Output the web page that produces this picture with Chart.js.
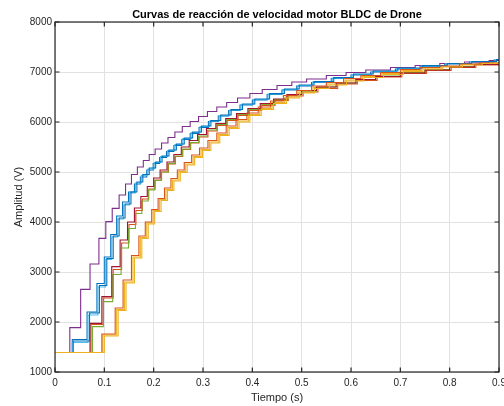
<!DOCTYPE html>
<html><head><meta charset="utf-8">
<script src="https://cdn.jsdelivr.net/npm/chart.js@4/dist/chart.umd.min.js"></script>
<style>html,body{margin:0;padding:0;background:#fff}canvas{display:block}</style>
</head><body>
<canvas id="c" width="504" height="406"></canvas>
<script>
const titleText = 'Curvas de reacción de velocidad motor BLDC de Drone';
const xLabel = 'Tiempo (s)';
const yLabel = 'Amplitud (V)';
const xTicks = [0, 0.1, 0.2, 0.3, 0.4, 0.5, 0.6, 0.7, 0.8, 0.9];
const xTickLabels = ['0', '0.1', '0.2', '0.3', '0.4', '0.5', '0.6', '0.7', '0.8', '0.9'];
const yTicks = [1000, 2000, 3000, 4000, 5000, 6000, 7000, 8000];
const yTickLabels = ['1000', '2000', '3000', '4000', '5000', '6000', '7000', '8000'];

const tPurple = [0, .030, .052, .071, .089, .103, .116, .130, .143, .155, .167, .179, .191, .203, .216, .229, .243, .258, .274, .291, .309, .328, .348, .370, .395, .420, .450, .480, .510, .550, .590, .630, .680, .730, .780, .830, .880, .900];
const yPurple = [1390, 1887, 2653, 3160, 3673, 4007, 4273, 4540, 4760, 4950, 5100, 5230, 5350, 5460, 5580, 5690, 5800, 5910, 6010, 6110, 6210, 6300, 6390, 6480, 6570, 6650, 6730, 6800, 6860, 6930, 6990, 7040, 7090, 7130, 7170, 7200, 7230, 7240];

const tBlueA = [0, .035, .065, .085, .100, .113, .125, .137, .149, .161, .173, .186, .199, .212, .226, .241, .257, .274, .292, .311, .331, .352, .375, .400, .430, .460, .490, .520, .560, .600, .640, .690, .740, .790, .840, .890, .900];
const yBlueA = [1390, 1650, 2200, 2770, 3300, 3750, 4120, 4400, 4600, 4760, 4900, 5040, 5170, 5290, 5410, 5530, 5650, 5770, 5890, 6010, 6120, 6230, 6340, 6440, 6550, 6640, 6720, 6790, 6870, 6940, 7000, 7060, 7110, 7160, 7200, 7240, 7250];

const tBlueB = [0, .037, .070, .090, .105, .118, .130, .142, .154, .166, .178, .191, .204, .217, .231, .246, .262, .279, .297, .316, .336, .357, .380, .405, .435, .465, .495, .525, .565, .605, .645, .695, .745, .795, .845, .895, .900];
const yBlueB = [1390, 1620, 2180, 2730, 3270, 3720, 4080, 4360, 4600, 4800, 4950, 5080, 5200, 5320, 5440, 5560, 5680, 5800, 5920, 6030, 6140, 6250, 6360, 6460, 6570, 6660, 6740, 6810, 6890, 6960, 7020, 7080, 7130, 7170, 7210, 7250, 7250];

const tLightBlue = [0, .035, .067, .087, .102, .115, .127, .139, .151, .163, .175, .188, .201, .214, .228, .243, .259, .276, .294, .313, .333, .354, .377, .402, .432, .462, .492, .522, .562, .602, .642, .692, .742, .792, .842, .892, .900];
const yLightBlue = [1390, 1590, 2140, 2700, 3250, 3700, 4060, 4340, 4580, 4780, 4930, 5060, 5190, 5310, 5430, 5550, 5670, 5790, 5910, 6020, 6130, 6240, 6350, 6450, 6560, 6650, 6730, 6800, 6880, 6950, 7010, 7070, 7120, 7170, 7210, 7250, 7260];

const tRed = [0, .071, .095, .115, .132, .147, .161, .174, .187, .200, .213, .227, .241, .256, .272, .289, .307, .326, .346, .368, .391, .416, .443, .470, .500, .530, .570, .610, .650, .700, .750, .800, .850, .900];
const yRed = [1390, 1973, 2507, 3107, 3640, 4000, 4280, 4510, 4710, 4880, 5040, 5200, 5350, 5500, 5630, 5750, 5870, 5970, 6070, 6170, 6270, 6370, 6460, 6550, 6630, 6700, 6780, 6850, 6910, 6980, 7040, 7100, 7150, 7200];

const tOrangeA = [0, .073, .098, .118, .135, .150, .164, .177, .190, .203, .216, .230, .244, .259, .275, .292, .310, .329, .349, .371, .394, .419, .446, .473, .503, .533, .573, .613, .653, .703, .753, .803, .853, .900];
const yOrangeA = [1390, 1950, 2480, 3050, 3580, 3950, 4230, 4460, 4660, 4840, 5000, 5160, 5310, 5450, 5580, 5700, 5820, 5930, 6030, 6130, 6230, 6330, 6430, 6520, 6600, 6670, 6760, 6830, 6900, 6970, 7030, 7090, 7140, 7190];

const tGreen = [0, .076, .098, .117, .134, .149, .163, .176, .189, .202, .215, .229, .243, .258, .274, .291, .309, .328, .348, .370, .393, .418, .445, .472, .500, .530, .570, .610, .650, .700, .750, .800, .850, .900];
const yGreen = [1390, 1907, 2407, 2950, 3480, 3870, 4170, 4420, 4640, 4830, 5000, 5170, 5320, 5460, 5590, 5720, 5840, 5950, 6050, 6150, 6250, 6350, 6450, 6540, 6620, 6700, 6780, 6850, 6920, 6990, 7050, 7110, 7160, 7200];

const tOrangeB = [0, .095, .122, .138, .155, .170, .183, .196, .209, .222, .235, .248, .262, .277, .293, .310, .328, .347, .367, .389, .412, .437, .463, .490, .520, .550, .585, .620, .660, .700, .740, .780, .820, .860, .900];
const yOrangeB = [1390, 1760, 2280, 2840, 3330, 3720, 4000, 4250, 4470, 4680, 4870, 5040, 5190, 5340, 5480, 5630, 5780, 5920, 6050, 6180, 6300, 6420, 6530, 6630, 6720, 6790, 6870, 6930, 6990, 7050, 7090, 7120, 7160, 7180, 7200];

const tYellowA = [0, .097, .125, .141, .158, .173, .186, .199, .212, .225, .238, .251, .265, .280, .296, .313, .331, .350, .370, .392, .415, .440, .466, .493, .523, .553, .588, .623, .663, .703, .743, .783, .823, .863, .900];
const yYellowA = [1390, 1740, 2250, 2800, 3300, 3690, 3980, 4230, 4450, 4650, 4840, 5010, 5160, 5310, 5450, 5600, 5750, 5890, 6020, 6150, 6270, 6390, 6500, 6600, 6690, 6760, 6840, 6910, 6970, 7030, 7080, 7110, 7150, 7180, 7200];

const tYellowB = [0, .100, .128, .144, .161, .176, .189, .202, .215, .228, .241, .254, .268, .283, .299, .316, .334, .353, .373, .395, .418, .443, .469, .496, .526, .556, .591, .626, .666, .706, .746, .786, .826, .866, .900];
const yYellowB = [1390, 1720, 2230, 2780, 3280, 3670, 3960, 4210, 4430, 4630, 4820, 4990, 5140, 5290, 5430, 5580, 5730, 5870, 6000, 6130, 6250, 6370, 6480, 6580, 6670, 6740, 6820, 6890, 6950, 7010, 7060, 7100, 7140, 7170, 7190];

const colBlue = '#0072BD', colOrange = '#D95319', colYellow = '#EDB120', colPurple = '#7E2F8E',
      colGreen = '#77AC30', colLightBlue = '#4DBEEE', colRed = '#A2142F';

function pts(t, y) { return t.map((v, i) => ({x: v, y: y[i]})); }
function ds(t, y, c) {
  return {data: pts(t, y), borderColor: c, backgroundColor: c, borderWidth: 1.1,
          stepped: 'before', pointRadius: 0, fill: false};
}

// first dataset is drawn on top in Chart.js -> list in reverse plotting order
const datasets = [
  ds(tYellowB, yYellowB, colYellow),
  ds(tOrangeB, yOrangeB, colOrange),
  ds(tBlueB, yBlueB, colBlue),
  ds(tRed, yRed, colRed),
  ds(tLightBlue, yLightBlue, colLightBlue),
  ds(tGreen, yGreen, colGreen),
  ds(tPurple, yPurple, colPurple),
  ds(tYellowA, yYellowA, colYellow),
  ds(tOrangeA, yOrangeA, colOrange),
  ds(tBlueA, yBlueA, colBlue)
];

const FONT = "'Liberation Sans', Arial, Helvetica, sans-serif";
const axisCol = '#262626';

const frame = {
  id: 'frame',
  afterDraw(chart) {
    const {ctx, chartArea: a, scales: {x, y}} = chart;
    ctx.save();
    ctx.strokeStyle = axisCol;
    ctx.lineWidth = 1.2;
    ctx.strokeRect(a.left, a.top, a.right - a.left, a.bottom - a.top);
    ctx.beginPath();
    const L = 4.5;
    xTicks.forEach(v => {
      const px = x.getPixelForValue(v);
      ctx.moveTo(px, a.bottom); ctx.lineTo(px, a.bottom - L);
      ctx.moveTo(px, a.top); ctx.lineTo(px, a.top + L);
    });
    yTicks.forEach(v => {
      const py = y.getPixelForValue(v);
      ctx.moveTo(a.left, py); ctx.lineTo(a.left + L, py);
      ctx.moveTo(a.right, py); ctx.lineTo(a.right - L, py);
    });
    ctx.stroke();
    ctx.fillStyle = '#000';
    ctx.font = 'bold 11px ' + FONT;
    ctx.textAlign = 'center';
    ctx.textBaseline = 'alphabetic';
    ctx.fillText(titleText, (a.left + a.right) / 2, 18);
    ctx.restore();
  }
};

new Chart(document.getElementById('c'), {
  type: 'line',
  data: {datasets},
  plugins: [frame],
  options: {
    responsive: false, animation: false, devicePixelRatio: 1,
    layout: {padding: {top: 22, right: 5, left: 0, bottom: 0}},
    plugins: {legend: {display: false}, title: {display: false}, tooltip: {enabled: false}},
    elements: {point: {radius: 0}, line: {tension: 0}},
    scales: {
      x: {
        type: 'linear', min: 0, max: 0.9,
        afterBuildTicks: s => { s.ticks = xTicks.map(v => ({value: v})); },
        ticks: {padding: 5, color: axisCol, font: {size: 10, family: FONT}, maxRotation: 0, autoSkip: false,
                callback: (v, i) => xTickLabels[i]},
        grid: {color: '#e2e2e2', drawTicks: false},
        border: {display: false},
        title: {display: true, text: xLabel, color: axisCol, font: {size: 11, family: FONT}, padding: {top: 0, bottom: 1}},
        afterFit: s => { s.height = 34; s.paddingLeft = 0; s.paddingRight = 0; }
      },
      y: {
        type: 'linear', min: 1000, max: 8000,
        afterBuildTicks: s => { s.ticks = yTicks.map(v => ({value: v})); },
        ticks: {padding: 3, color: axisCol, font: {size: 10, family: FONT}, autoSkip: false,
                callback: (v, i) => yTickLabels[i]},
        grid: {color: '#e2e2e2', drawTicks: false},
        border: {display: false},
        title: {display: true, text: yLabel, color: axisCol, font: {size: 11, family: FONT}, padding: {top: 12, bottom: 0}},
        afterFit: s => { s.width = 55; }
      }
    }
  }
});
</script>
</body></html>
